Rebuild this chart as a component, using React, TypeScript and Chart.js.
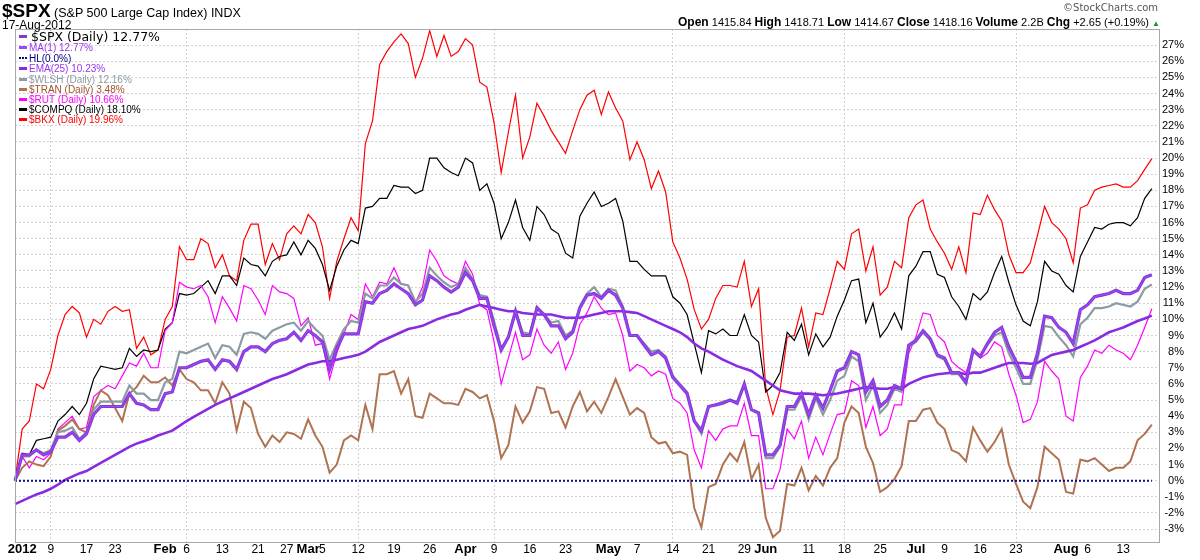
import { useEffect, useRef } from 'react';
import { Chart, registerables } from 'chart.js';

Chart.register(...registerables);

// trading days of 2012 up to 17-Aug (Dec 30 2011 is the base day)
const monthNames = ['Jan', 'Feb', 'Mar', 'Apr', 'May', 'Jun', 'Jul', 'Aug'];
const janDays = [3, 4, 5, 6, 9, 10, 11, 12, 13, 17, 18, 19, 20, 23, 24, 25, 26, 27, 30, 31];
const febDays = [1, 2, 3, 6, 7, 8, 9, 10, 13, 14, 15, 16, 17, 21, 22, 23, 24, 27, 28, 29];
const marDays = [1, 2, 5, 6, 7, 8, 9, 12, 13, 14, 15, 16, 19, 20, 21, 22, 23, 26, 27, 28, 29, 30];
const aprDays = [2, 3, 4, 5, 9, 10, 11, 12, 13, 16, 17, 18, 19, 20, 23, 24, 25, 26, 27, 30];
const mayDays = [1, 2, 3, 4, 7, 8, 9, 10, 11, 14, 15, 16, 17, 18, 21, 22, 23, 24, 25, 29, 30, 31];
const junDays = [1, 4, 5, 6, 7, 8, 11, 12, 13, 14, 15, 18, 19, 20, 21, 22, 25, 26, 27, 28, 29];
const julDays = [2, 3, 5, 6, 9, 10, 11, 12, 13, 16, 17, 18, 19, 20, 23, 24, 25, 26, 27, 30, 31];
const augDays = [1, 2, 3, 6, 7, 8, 9, 10, 13, 14, 15, 16, 17];

// x axis: weekly grid lines and the labels written under the axis
const weekGrid = [
  'Jan 3', 'Jan 9', 'Jan 17', 'Jan 23', 'Jan 30', 'Feb 6', 'Feb 13', 'Feb 21', 'Feb 27',
  'Mar 5', 'Mar 12', 'Mar 19', 'Mar 26', 'Apr 2', 'Apr 9', 'Apr 16', 'Apr 23', 'Apr 30',
  'May 7', 'May 14', 'May 21', 'May 29', 'Jun 4', 'Jun 11', 'Jun 18', 'Jun 25',
  'Jul 2', 'Jul 9', 'Jul 16', 'Jul 23', 'Jul 30', 'Aug 6', 'Aug 13',
];
const axisLabels: [string, string][] = [
  ['Jan 3', '2012'], ['Jan 9', '9'], ['Jan 17', '17'], ['Jan 23', '23'],
  ['Feb 1', 'Feb'], ['Feb 6', '6'], ['Feb 13', '13'], ['Feb 21', '21'], ['Feb 27', '27'],
  ['Mar 1', 'Mar'], ['Mar 5', '5'], ['Mar 12', '12'], ['Mar 19', '19'], ['Mar 26', '26'],
  ['Apr 2', 'Apr'], ['Apr 9', '9'], ['Apr 16', '16'], ['Apr 23', '23'],
  ['May 1', 'May'], ['May 7', '7'], ['May 14', '14'], ['May 21', '21'], ['May 29', '29'],
  ['Jun 1', 'Jun'], ['Jun 11', '11'], ['Jun 18', '18'], ['Jun 25', '25'],
  ['Jul 2', 'Jul'], ['Jul 9', '9'], ['Jul 16', '16'], ['Jul 23', '23'],
  ['Aug 1', 'Aug'], ['Aug 6', '6'], ['Aug 13', '13'],
];
const boldLabels = ['2012', 'Feb', 'Mar', 'Apr', 'May', 'Jun', 'Jul', 'Aug'];

// y axis tick labels (%)
const yTicks = [
  -3, -2, -1, 0, 1, 2, 3, 4, 5, 6, 7, 8, 9, 10, 11, 12, 13, 14, 15,
  16, 17, 18, 19, 20, 21, 22, 23, 24, 25, 26, 27,
];

// % change since Dec 30 2011
const spx = [
  0, 1.6, 1.6, 1.9, 1.6, 1.8, 2.7, 2.7, 3.0, 2.5,
  2.9, 4.1, 4.6, 4.6, 4.6, 4.6, 5.4, 4.8, 4.7, 4.4,
  4.4, 5.4, 5.5, 7.0, 7.0, 7.2, 7.4, 7.5, 6.9, 7.5,
  7.4, 6.9, 8.0, 8.3, 8.3, 8.0, 8.5, 8.7, 8.8, 9.2,
  8.7, 9.3, 9.0, 8.6, 6.9, 8.2, 9.1, 9.1, 9.1, 11.1,
  11.0, 11.6, 11.8, 12.2, 11.9, 11.6, 10.9, 11.2, 12.7, 12.4,
  12.0, 11.7, 12.0, 12.9, 12.4, 11.3, 11.3, 9.6, 8.1, 8.9,
  10.5, 9.0, 9.0, 10.7, 10.3, 9.6, 9.6, 8.8, 9.2, 10.7,
  11.5, 11.6, 11.3, 11.8, 11.5, 10.7, 9.0, 9.0, 8.4, 7.8,
  8.0, 7.6, 6.4, 5.9, 5.4, 3.7, 3.1, 4.6, 4.7, 4.8,
  5.0, 4.8, 6.0, 4.4, 4.2, 1.6, 1.6, 2.2, 4.6, 4.6,
  5.4, 4.1, 5.3, 4.5, 5.6, 6.8, 7.0, 8.0, 7.8, 5.5,
  6.2, 4.6, 5.0, 5.9, 5.7, 8.4, 8.7, 9.3, 8.8, 7.8,
  7.6, 6.7, 6.7, 6.1, 8.1, 7.7, 8.5, 9.2, 9.5, 8.3,
  7.4, 6.4, 6.4, 7.9, 10.2, 10.1, 9.5, 9.2, 8.5, 10.6,
  10.9, 11.4, 11.5, 11.6, 11.8, 11.6, 11.6, 11.8, 12.6, 12.77,
];
const hl = spx.map(() => 0);
const ema25 = [
  -1.45, -1.25, -1.05, -0.85, -0.7, -0.5, -0.25, 0.05, 0.25, 0.45,
  0.6, 0.85, 1.1, 1.35, 1.6, 1.85, 2.1, 2.3, 2.45, 2.6,
  2.8, 2.95, 3.1, 3.4, 3.7, 3.95, 4.2, 4.45, 4.7, 4.9,
  5.1, 5.3, 5.5, 5.7, 5.9, 6.1, 6.3, 6.45, 6.6, 6.8,
  7.0, 7.2, 7.3, 7.4, 7.4, 7.5, 7.6, 7.7, 7.8, 8.0,
  8.3, 8.6, 8.8, 9.0, 9.2, 9.4, 9.5, 9.6, 9.8, 10.0,
  10.15, 10.3, 10.4, 10.6, 10.75, 10.9, 10.8, 10.7, 10.6, 10.5,
  10.5, 10.4, 10.35, 10.3, 10.3, 10.3, 10.2, 10.1, 10.1, 10.1,
  10.2, 10.3, 10.4, 10.5, 10.5, 10.5, 10.45, 10.4, 10.2, 10.0,
  9.8, 9.6, 9.4, 9.2, 8.9, 8.5, 8.2, 8.0, 7.75, 7.5,
  7.3, 7.1, 6.95, 6.8, 6.5, 6.2, 5.9, 5.6, 5.5, 5.4,
  5.4, 5.4, 5.35, 5.3, 5.35, 5.4, 5.5, 5.6, 5.7, 5.8,
  5.75, 5.7, 5.7, 5.8, 5.7, 6.0, 6.2, 6.4, 6.5, 6.6,
  6.65, 6.7, 6.7, 6.6, 6.7, 6.7, 6.85, 7.0, 7.15, 7.3,
  7.3, 7.3, 7.25, 7.3, 7.55, 7.8, 7.9, 8.0, 8.1, 8.3,
  8.5, 8.7, 8.95, 9.2, 9.35, 9.5, 9.7, 9.9, 10.05, 10.23,
];
const wlsh = [
  0, 1.5, 1.5, 1.9, 1.7, 1.9, 3.0, 3.1, 3.3, 2.6,
  3.0, 4.4, 4.9, 4.9, 4.9, 4.9, 5.9, 5.4, 5.4, 5.0,
  5.0, 6.1, 6.3, 8.0, 7.9, 8.1, 8.3, 8.5, 7.6, 8.4,
  8.3, 7.8, 9.1, 9.2, 9.1, 8.8, 9.3, 9.5, 9.7, 9.8,
  9.3, 9.9, 9.4, 9.0, 7.5, 8.5, 9.4, 9.9, 9.8, 11.6,
  11.3, 12.1, 12.1, 12.6, 12.2, 12.1, 11.1, 11.6, 13.2, 12.7,
  12.3, 12.0, 12.2, 13.2, 12.5, 11.5, 11.4, 9.9, 8.2, 8.9,
  10.5, 9.2, 9.1, 10.8, 10.3, 9.8, 9.9, 9.0, 9.3, 10.8,
  11.6, 12.0, 11.4, 11.9, 11.8, 10.8, 9.0, 9.0, 8.5, 8.0,
  8.1, 7.7, 6.5, 6.0, 5.5, 3.7, 2.9, 4.6, 4.7, 4.9,
  5.0, 4.9, 5.9, 4.4, 4.2, 1.4, 1.4, 2.1, 4.4, 4.4,
  5.2, 3.8, 5.1, 4.1, 5.0, 6.2, 6.5, 7.7, 7.4, 5.0,
  5.9, 4.2, 4.7, 5.7, 5.5, 8.3, 8.6, 9.2, 8.7, 7.7,
  7.5, 6.6, 6.6, 6.0, 8.0, 7.7, 8.4, 9.0, 9.2, 7.9,
  7.0, 6.0, 6.0, 7.5, 9.6, 9.5, 8.9, 8.4, 7.7, 9.7,
  10.1, 10.7, 10.7, 10.8, 11.0, 10.9, 10.8, 11.1, 11.9, 12.16,
];
const tran = [
  0, 0.8, 1.2, 1.0, 0.9, 1.5, 3.1, 3.4, 3.8, 3.2,
  3.0, 4.7, 5.6, 5.3, 4.5, 3.7, 5.4, 5.8, 6.5, 6.1,
  6.1, 6.4, 5.9, 6.9, 6.3, 6.1, 5.6, 5.6, 4.8, 6.1,
  5.4, 3.1, 4.9, 4.5, 2.9, 2.1, 2.8, 2.4, 3.0, 2.9,
  2.6, 3.8, 2.8, 2.1, 0.5, 1.0, 2.5, 2.8, 2.5, 4.7,
  3.2, 6.6, 6.6, 6.8, 5.4, 6.3, 4.0, 3.9, 5.4, 5.1,
  4.8, 4.8, 4.7, 5.7, 5.5, 5.1, 5.3, 3.7, 1.4, 2.2,
  4.6, 3.6, 4.3, 5.8, 5.7, 4.2, 4.3, 3.3, 4.6, 5.5,
  4.3, 4.9, 4.2, 5.2, 6.3, 5.2, 4.1, 4.5, 4.2, 2.7,
  2.3, 2.4, 1.7, 1.8, 1.6, -1.7, -2.9, -0.4, -0.2, 1.0,
  1.7, 1.2, 2.4, 0.1, 1.0, -2.3, -3.5, -3.1, -0.2, -0.3,
  0.8, -0.6, 0.3, -0.3, 0.8, 1.4, 3.6, 4.6, 4.2, 2.1,
  1.1, -0.7, -0.4, 0.1, 0.9, 3.7, 3.7, 4.4, 4.5, 3.6,
  3.2, 1.9, 1.7, 1.2, 3.3, 2.5, 1.8, 2.4, 3.2, 1.0,
  -0.2, -1.3, -1.7, -0.4, 2.1, 1.7, 1.3, -0.7, -0.8, 1.3,
  1.2, 1.4, 1.0, 0.6, 0.8, 0.8, 1.2, 2.5, 2.9, 3.48,
];
const rut = [
  0, 1.5, 0.8, 1.5, 1.3, 1.7, 3.2, 3.6, 4.0, 3.2,
  3.3, 5.2, 5.6, 5.9, 5.7, 6.5, 7.3, 7.1, 7.9, 7.0,
  7.0, 9.3, 9.8, 12.3, 12.0, 11.9, 12.1, 11.4, 9.8, 11.4,
  10.7, 9.9, 12.1, 11.9, 11.2, 10.3, 12.1, 11.7, 11.6, 11.3,
  9.6, 10.1, 8.4, 8.5, 6.3, 7.9, 9.1, 10.3, 10.0, 12.2,
  11.4, 12.3, 12.2, 13.2, 12.2, 12.1, 11.0, 12.0, 14.3, 13.6,
  12.7, 12.4, 12.2, 13.6, 12.8, 10.9, 10.6, 8.6, 6.0, 7.6,
  9.2, 7.5, 7.8, 9.4, 8.4, 7.9, 8.6, 6.9, 7.9, 9.7,
  10.4, 11.4, 10.7, 10.3, 10.4, 9.0, 6.8, 7.2, 7.0, 6.5,
  6.8, 6.6, 5.1, 4.8, 4.2, 1.9, 0.8, 3.1, 2.5, 3.2,
  3.4, 3.4, 4.8, 2.8, 2.8, -0.5, -0.5, 0.7, 3.2, 2.6,
  3.7, 1.4, 2.7, 1.6, 2.9, 4.1, 4.2, 6.2, 5.9, 3.3,
  4.6, 2.8, 3.2, 4.7, 4.7, 7.9, 8.9, 10.4, 10.3, 9.0,
  8.6, 7.4, 7.0, 6.7, 8.0, 7.6, 7.9, 8.6, 8.3, 6.6,
  5.3, 3.6, 3.8, 4.9, 7.4, 6.8, 6.3, 4.0, 3.7, 6.4,
  7.1, 8.1, 7.9, 8.4, 8.1, 7.9, 7.5, 8.4, 9.5, 10.66,
];
const compq = [
  0, 1.7, 1.6, 2.5, 2.6, 2.7, 3.7, 4.1, 4.6, 4.1,
  4.8, 6.3, 7.1, 7.0, 6.9, 7.0, 8.2, 7.7, 8.1, 8.0,
  8.1, 9.4, 9.8, 11.6, 11.5, 11.6, 12.0, 12.4, 11.6, 12.7,
  12.7, 12.1, 13.8, 13.4, 13.3, 12.7, 13.6, 13.9, 14.0, 14.8,
  14.0, 14.9, 14.4, 13.4, 11.8, 13.3, 14.3, 14.9, 14.7, 16.9,
  17.0, 17.5, 17.5, 18.3, 18.2, 18.2, 17.8, 18.0, 20.0, 20.0,
  19.4, 19.1, 18.9, 20.0, 19.7, 18.0, 18.4, 17.2, 15.0, 16.0,
  17.4, 15.7, 14.9, 17.0, 16.5, 15.6, 15.3, 14.1, 13.8, 16.4,
  17.2, 17.9, 17.0, 17.2, 17.5, 16.1, 13.6, 13.6, 13.1, 12.7,
  12.7, 12.7, 11.4, 11.0, 10.3, 8.5, 6.7, 9.3, 9.1, 9.4,
  9.0, 9.0, 10.3, 9.0, 8.6, 5.5, 5.9, 6.7, 9.2, 8.7,
  9.7, 7.8, 9.1, 8.3, 8.9, 10.2, 11.2, 12.4, 12.5, 9.8,
  11.0, 8.9, 9.5, 10.4, 9.4, 12.7, 13.3, 14.2, 14.2, 12.8,
  12.6, 11.4, 10.8, 10.0, 11.6, 11.2, 11.7, 12.9, 13.9, 12.3,
  10.9, 9.9, 9.6, 11.1, 13.6, 13.0, 12.8, 12.1, 11.7, 13.9,
  14.8, 15.7, 15.6, 15.9, 16.0, 16.0, 15.8, 16.3, 17.5, 18.1,
];
const bkx = [
  0, 3.2, 3.7, 6.0, 5.7, 6.9, 9.0, 10.3, 10.8, 10.4,
  8.9, 10.0, 9.7, 10.5, 10.8, 10.5, 10.6, 8.2, 8.9, 7.8,
  8.1, 10.0, 10.8, 14.5, 13.7, 13.7, 15.0, 14.7, 13.2, 14.0,
  12.7, 12.4, 14.9, 15.9, 15.9, 13.4, 14.7, 13.7, 15.3, 15.8,
  15.3, 16.5, 16.0, 14.5, 11.3, 13.6, 15.0, 16.3, 15.5, 20.9,
  22.3, 25.8, 26.6, 27.2, 27.7, 27.1, 25.0, 26.2, 27.9, 26.3,
  27.6, 26.3, 26.6, 27.4, 27.0, 24.7, 24.4, 22.2, 19.1, 21.6,
  23.9, 20.0, 21.3, 23.4, 22.6, 21.7, 21.0, 20.3, 21.7, 23.0,
  23.9, 24.2, 22.7, 24.1, 23.1, 22.3, 19.9, 21.0, 19.9, 18.1,
  19.2, 17.9, 14.8, 13.8, 12.5, 10.6, 9.4, 10.0, 11.3, 12.1,
  12.1, 12.0, 13.6, 10.8, 11.9, 5.8, 4.1, 5.6, 8.9, 9.0,
  10.7, 8.3, 10.4, 10.3, 11.9, 13.6, 13.1, 15.3, 15.6, 13.0,
  14.5, 11.5, 12.0, 13.6, 13.2, 16.3, 17.1, 17.4, 15.6, 14.8,
  14.1, 13.1, 14.5, 12.9, 16.6, 16.5, 17.7, 16.8, 16.1, 14.0,
  12.9, 12.9, 13.5, 15.2, 17.0, 16.0, 15.6, 15.0, 13.5, 16.9,
  17.1, 18.0, 18.2, 18.3, 18.4, 18.2, 18.2, 18.6, 19.3, 19.96,
];

const dates: string[] = ['Dec 30'];
[janDays, febDays, marDays, aprDays, mayDays, junDays, julDays, augDays].forEach((days, m) =>
  days.forEach((d) => dates.push(`${monthNames[m]} ${d}`))
);
dates.push(''); // empty slot so the last point sits just inside the frame

const gridSet = new Set(weekGrid);

const SANS = '"Liberation Sans", Arial, sans-serif';
const GRID = '#d2d2d2';

const colors = {
  spx: '#8338cf',
  ma: '#9d45ff',
  hl: '#0a0a8c',
  ema: '#8a2be2',
  wlsh: '#8d9ba4',
  tran: '#b07352',
  rut: '#ff00ff',
  compq: '#000000',
  bkx: '#ff0000',
};

const legendRows = [
  { text: '$SPX (Daily) 12.77%', line: colors.spx, color: '#000', top: 36, big: true },
  { text: 'MA(1) 12.77%', line: colors.ma, color: '#9933ee', top: 47 },
  { text: 'HL(0.0%)', line: colors.hl, color: '#000080', top: 58, dotted: true },
  { text: 'EMA(25) 10.23%', line: colors.ema, color: '#9933ee', top: 68.5 },
  { text: '$WLSH (Daily) 12.16%', line: colors.wlsh, color: '#8d9ba4', top: 79 },
  { text: '$TRAN (Daily) 3.48%', line: colors.tran, color: '#a0522d', top: 89 },
  { text: '$RUT (Daily) 10.66%', line: colors.rut, color: '#ff00ff', top: 99 },
  { text: '$COMPQ (Daily) 18.10%', line: colors.compq, color: '#000', top: 109 },
  { text: '$BKX (Daily) 19.96%', line: colors.bkx, color: '#ff0000', top: 119 },
];

// plot frame plus the date labels under it (placed with the x scale)
const framePlugin = {
  id: 'frame',
  afterDraw(chart: Chart) {
    const { ctx, chartArea: a } = chart;
    const xs = chart.scales.x;
    ctx.save();
    ctx.strokeStyle = '#a8a8a8';
    ctx.lineWidth = 1;
    ctx.strokeRect(Math.round(a.left) + 0.5, Math.round(a.top) + 0.5, Math.round(a.right - a.left), Math.round(a.bottom - a.top));

    ctx.fillStyle = '#000';
    ctx.textAlign = 'center';
    ctx.textBaseline = 'middle';
    axisLabels.forEach(([d, t]) => {
      const i = dates.indexOf(d);
      if (i < 0) return;
      const bold = boldLabels.includes(t);
      ctx.font = bold ? `bold 13px ${SANS}` : `12px ${SANS}`;
      ctx.fillText(t, xs.getPixelForValue(i), a.bottom + 7.5);
    });
    ctx.restore();
  },
};

function line(label: string, data: number[], color: string, width: number, order: number, dash?: number[]) {
  return {
    label,
    data,
    borderColor: color,
    backgroundColor: color,
    borderWidth: width,
    borderDash: dash,
    pointRadius: 0,
    tension: 0,
    fill: false,
    order,
  };
}

export default function App() {
  const chartRef = useRef<HTMLCanvasElement>(null);
  const chartInstance = useRef<Chart | null>(null);

  useEffect(() => {
    if (!chartRef.current) return;
    const ctx = chartRef.current.getContext('2d');
    if (!ctx) return;
    if (chartInstance.current) chartInstance.current.destroy();

    chartInstance.current = new Chart(ctx, {
      type: 'line',
      data: {
        labels: dates,
        datasets: [
          line('MA(1)', spx, colors.ma, 1.2, 0),
          line('$SPX (Daily)', spx, colors.spx, 3.2, 1),
          line('HL(0.0%)', hl, colors.hl, 2, 2, [2, 2]),
          line('EMA(25)', ema25, colors.ema, 2.6, 3),
          line('$WLSH (Daily)', wlsh, colors.wlsh, 2.2, 4),
          line('$TRAN (Daily)', tran, colors.tran, 2, 5),
          line('$RUT (Daily)', rut, colors.rut, 1.2, 6),
          line('$COMPQ (Daily)', compq, colors.compq, 1.2, 7),
          line('$BKX (Daily)', bkx, colors.bkx, 1.2, 8),
        ],
      },
      options: {
        animation: false,
        responsive: false,
        layout: { padding: { left: 15, top: 29, right: 16, bottom: 0 } },
        plugins: {
          legend: { display: false },
          tooltip: { enabled: false },
        },
        scales: {
          x: {
            afterFit: (s: any) => {
              s.height = 18;
            },
            grid: {
              drawTicks: false,
              color: (c: any) => (gridSet.has(dates[c.index]) ? GRID : 'rgba(0,0,0,0)'),
            },
            border: { display: false, dash: [2, 2] },
            ticks: {
              display: false,
              autoSkip: false,
              maxRotation: 0,
              minRotation: 0,
              callback: (_v: any, i: number) => (gridSet.has(dates[i]) ? '' : null),
            },
          },
          y: {
            position: 'right',
            min: -3.8,
            max: 28,
            afterBuildTicks: (s: any) => {
              s.ticks = yTicks.map((v) => ({ value: v }));
            },
            afterFit: (s: any) => {
              s.width = 25;
            },
            grid: { drawTicks: false, color: GRID },
            border: { display: false, dash: [2, 2] },
            ticks: {
              padding: 5,
              crossAlign: 'far',
              color: '#000',
              font: { family: SANS, size: 11 },
              callback: (v: any) => `${v}%`,
            },
          },
        },
      },
      plugins: [framePlugin],
    } as any);

    return () => {
      if (chartInstance.current) {
        chartInstance.current.destroy();
        chartInstance.current = null;
      }
    };
  }, []);

  return (
    <div
      style={{
        position: 'fixed',
        left: 0,
        top: 0,
        width: 1200,
        height: 560,
        background: '#fff',
        fontFamily: SANS,
        color: '#000',
        overflow: 'hidden',
      }}
    >
      <canvas ref={chartRef} width={1200} height={560} style={{ position: 'absolute', left: 0, top: 0 }} />

      <div style={{ position: 'absolute', left: 2, top: 0, whiteSpace: 'nowrap', lineHeight: '22px' }}>
        <span style={{ fontSize: 19, fontWeight: 'bold' }}>$SPX</span>
        <span style={{ fontSize: 12.5 }}> (S&amp;P 500 Large Cap Index) INDX</span>
      </div>
      <div style={{ position: 'absolute', left: 2, top: 18, fontSize: 12, lineHeight: '14px', whiteSpace: 'nowrap' }}>
        17-Aug-2012
      </div>

      <div
        style={{
          position: 'absolute',
          right: 42,
          top: 1,
          fontSize: 10,
          lineHeight: '13px',
          color: '#555',
          fontFamily: '"DejaVu Sans", sans-serif',
          whiteSpace: 'nowrap',
        }}
      >
        ©StockCharts.com
      </div>
      <div
        style={{
          position: 'absolute',
          right: 40,
          top: 15,
          fontSize: 11,
          lineHeight: '14px',
          whiteSpace: 'nowrap',
        }}
      >
        <b style={{ fontSize: 12 }}>Open</b> 1415.84 <b style={{ fontSize: 12 }}>High</b> 1418.71{' '}
        <b style={{ fontSize: 12 }}>Low</b> 1414.67 <b style={{ fontSize: 12 }}>Close</b> 1418.16{' '}
        <b style={{ fontSize: 12 }}>Volume</b> 2.2B <b style={{ fontSize: 12 }}>Chg</b> +2.65 (+0.19%){' '}
        <span style={{ color: '#1a9a1a', fontSize: 8 }}>▲</span>
      </div>

      {legendRows.map((r) => (
        <div
          key={r.text}
          style={{
            position: 'absolute',
            left: 19,
            top: r.top - 7,
            height: 14,
            display: 'flex',
            alignItems: 'center',
            whiteSpace: 'nowrap',
          }}
        >
          <span
            style={{
              display: 'inline-block',
              width: 8,
              height: r.dotted ? 0 : 3,
              borderTop: r.dotted ? `2px dotted ${r.line}` : 'none',
              background: r.dotted ? 'transparent' : r.line,
              marginRight: r.big ? 4 : 2,
            }}
          />
          <span
            style={{
              color: r.color,
              fontSize: r.big ? 12.5 : 10,
              fontFamily: r.big ? '"DejaVu Sans", sans-serif' : SANS,
            }}
          >
            {r.text}
          </span>
        </div>
      ))}
    </div>
  );
}
